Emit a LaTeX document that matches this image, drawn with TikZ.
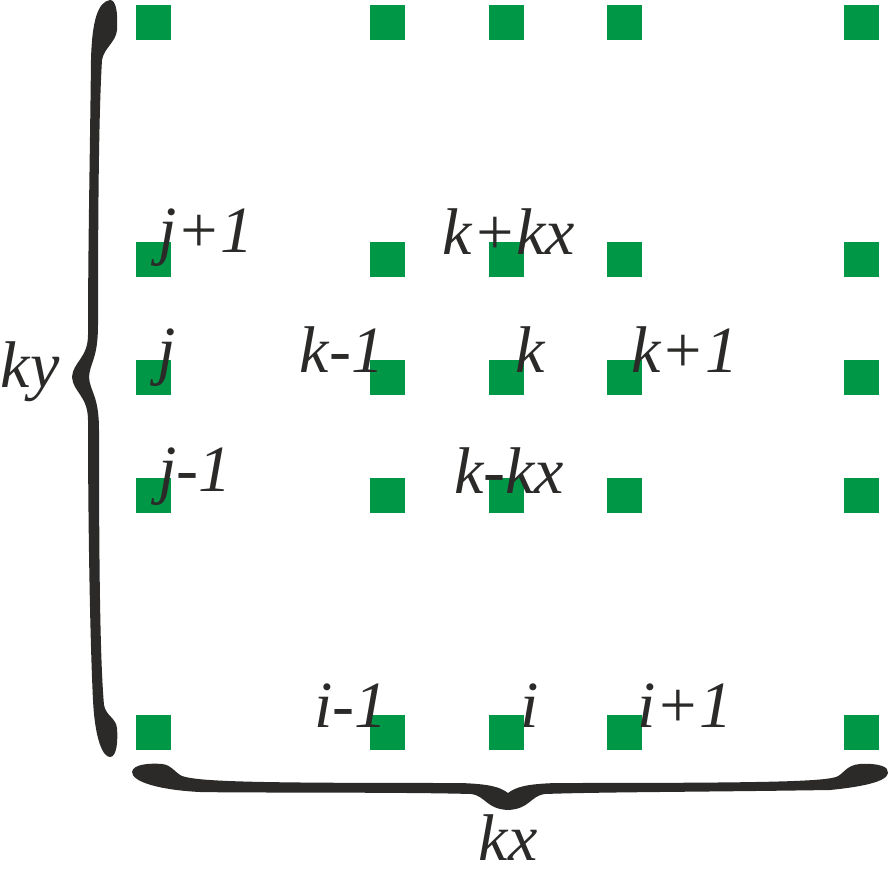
\documentclass[tikz,border=0pt]{standalone}
\usepackage{fontspec}
\setmainfont{Liberation Serif}
\definecolor{cellgreen}{HTML}{009846}
\definecolor{inkgray}{HTML}{2B2A29}

\begin{document}
\begin{tikzpicture}[x=1pt, y=-1pt,
    cell/.style={fill=cellgreen, minimum size=35pt, inner sep=0pt},
    idx/.style={anchor=base, inner sep=0pt, text=inkgray, font=\fontsize{66}{70}\selectfont\itshape}]
        \useasboundingbox (0,0) rectangle (889,872);

        % Grid points
        \foreach \cx/\cn in {153.5/a, 387.5/b, 506/c, 624.5/d, 861/e}
            \foreach \cy/\rn in {22.5/1, 259/2, 377.5/3, 495/4, 732.5/5}
                \node[cell] (\cn\rn) at (\cx, \cy) {};

        % Row indices
        \node[idx] (jp) at (206, 252) {j+1};
        \node[idx] (j)  at (167, 372) {j};
        \node[idx] (jm) at (195, 491) {j-1};

        % Neighbours of k
        \node[idx] (kpkx) at (509, 254) {k+kx};
        \node[idx] (km)   at (342, 372) {k-1};
        \node[idx] (k)    at (530, 372) {k};
        \node[idx] (kp)   at (685, 372) {k+1};
        \node[idx] (kmkx) at (509, 493) {k-kx};

        % Column indices
        \node[idx] (im) at (351, 727) {i-1};
        \node[idx] (i)  at (530, 727) {i};
        \node[idx] (ip) at (685, 727) {i+1};

        % Brace along y
        \fill[inkgray] (110,0) .. controls (98,2) and (92,20) .. (91,60)
            .. controls (90,150) and (88,250) .. (88,335)
            .. controls (88,358) and (73,362) .. (72,377)
            .. controls (73,392) and (88,396) .. (88,420)
            .. controls (88,520) and (90,640) .. (93,700)
            .. controls (95,740) and (103,757) .. (110,757)
            .. controls (117,757) and (118,740) .. (117,728)
            .. controls (116,718) and (106,716) .. (104,705)
            .. controls (100,660) and (99,560) .. (99,430)
            .. controls (99,395) and (90,392) .. (89,377)
            .. controls (90,362) and (98,359) .. (98,325)
            .. controls (98,200) and (99,110) .. (102,60)
            .. controls (104,48) and (116,42) .. (117,30)
            .. controls (118,12) and (116,0) .. (110,0) -- cycle;
        \node[idx] (ky) at (30, 387) {ky};

        % Brace along x
        \fill[inkgray] (132,772) .. controls (133,764) and (150,763) .. (162,764)
            .. controls (172,765) and (174,772) .. (182,776)
            .. controls (200,782) and (260,783) .. (460,783)
            .. controls (490,784) and (500,787) .. (508,793)
            .. controls (516,787) and (526,784) .. (556,783)
            .. controls (750,783) and (820,782) .. (836,777)
            .. controls (844,774) and (846,765) .. (860,764)
            .. controls (880,763) and (889,767) .. (888,773)
            .. controls (887,782) and (860,787) .. (830,790)
            .. controls (700,792) and (600,792) .. (545,794)
            .. controls (530,796) and (530,809) .. (508,810)
            .. controls (486,809) and (486,796) .. (471,794)
            .. controls (400,792) and (250,793) .. (200,792)
            .. controls (160,790) and (132,782) .. (132,772) -- cycle;
        \node[idx] (kx) at (508, 860) {kx};
    \end{tikzpicture}
\end{document}
